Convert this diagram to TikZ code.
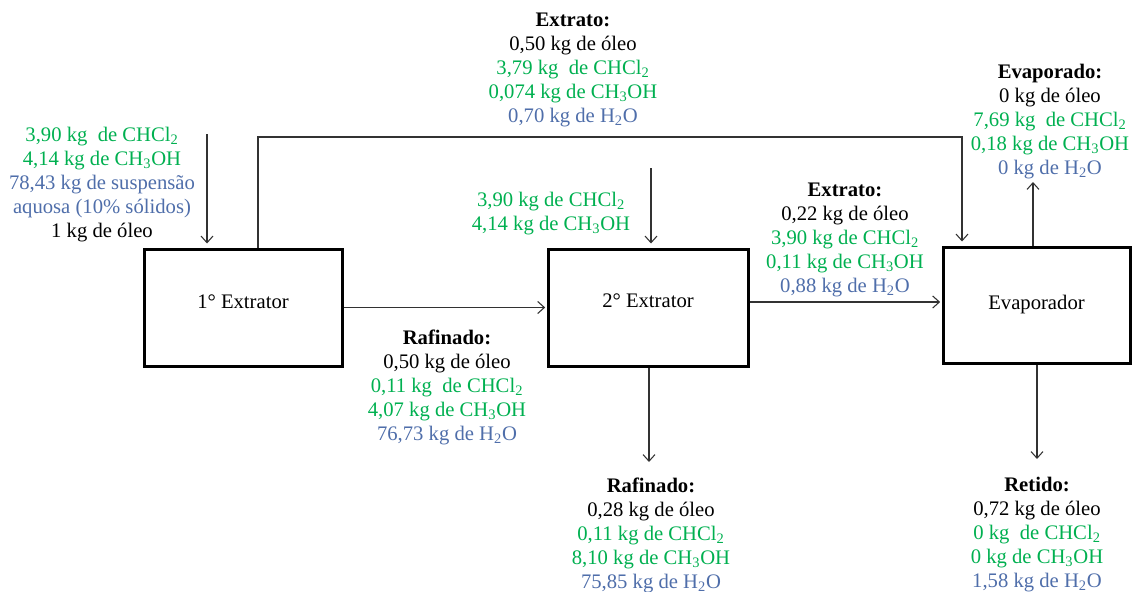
\documentclass[tikz,border=0pt]{standalone}
\usepackage{fontspec}
\setmainfont{Liberation Serif}
\usetikzlibrary{arrows.meta}
\definecolor{cgreen}{RGB}{0,176,80}
\definecolor{cblue}{RGB}{79,110,170}
\definecolor{cline}{RGB}{50,50,50}
\newcommand{\G}[1]{\textcolor{cgreen}{#1}}
\newcommand{\B}[1]{\textcolor{cblue}{#1}}
\newcommand{\sub}[1]{\textsubscript{#1}}
\begin{document}
\begin{tikzpicture}[x=0.75pt,y=-0.75pt,
  every node/.style={font=\fontsize{15.5}{18}\selectfont},
  unit/.style={draw=black,line width=2.25pt,inner sep=0pt},
  lbl/.style={align=center,inner sep=0pt},
  arr/.style={draw=cline,line width=0.8pt,-{Straight Barb[length=5pt,width=9pt]}},
  ln/.style={draw=cline,line width=0.8pt}]
\useasboundingbox (0,0) rectangle (1132,592);
% units
\node[unit,minimum width=148.5pt,minimum height=87.75pt,text height=10.5pt,text depth=9.3pt] (b1) at (243,307.5) {1° Extrator};
\node[unit,minimum width=150pt,minimum height=87.75pt,text height=10.5pt,text depth=10.8pt] (b2) at (648,307.5) {2° Extrator};
\node[unit,minimum width=140.25pt,minimum height=87pt] (b3) at (1036.5,305) {Evaporador};
% coordinates
\coordinate (f1) at (207,134);
\coordinate (r1) at (258,137);
\coordinate (r2) at (962,137);
\coordinate (f2) at (651,168);
\coordinate (y302) at (0,302);
\coordinate (e1) at (1033,182);
\coordinate (d2) at (649,462);
\coordinate (d3) at (1037,459);
% connectors
\draw[arr,shorten >=3pt] (f1) -- (f1 |- b1.north);
\draw[arr,shorten >=3pt] (b1.north -| r1) |- (r2) -- (r2 |- b3.north);
\draw[arr,shorten >=1pt] (b1.east) -- (b2.west);
\draw[arr,shorten >=3pt] (f2) -- (f2 |- b2.north);
\draw[arr,shorten >=1pt] (b2.east |- y302) -- (b3.west |- y302);
\draw[arr] (b3.north -| e1) -- (e1);
\draw[arr] (b2.south -| d2) -- (d2);
\draw[arr] (b3.south -| d3) -- (d3);
% labels
\node[lbl] (t1) at (102,185) {\G{3,90 kg\ \ de CHCl\sub{2}}\\ \G{4,14 kg de CH\sub{3}OH}\\ \B{78,43 kg de suspensão}\\ \B{aquosa (10\% sólidos)}\\ 1 kg de óleo};
\node[lbl] (t2) at (573,70) {\textbf{Extrato:}\\ 0,50 kg de óleo\\ \G{3,79 kg\ \ de CHCl\sub{2}}\\ \G{0,074 kg de CH\sub{3}OH}\\ \B{0,70 kg de H\sub{2}O}};
\node[lbl] (t3) at (1050,122) {\textbf{Evaporado:}\\ 0 kg de óleo\\ \G{7,69 kg\ \ de CHCl\sub{2}}\\ \G{0,18 kg de CH\sub{3}OH}\\ \B{0 kg de H\sub{2}O}};
\node[lbl] (t4) at (551,214) {\G{3,90 kg de CHCl\sub{2}}\\ \G{4,14 kg de CH\sub{3}OH}};
\node[lbl] (t5) at (845,240) {\textbf{Extrato:}\\ 0,22 kg de óleo\\ \G{3,90 kg de CHCl\sub{2}}\\ \G{0,11 kg de CH\sub{3}OH}\\ \B{0,88 kg de H\sub{2}O}};
\node[lbl] (t6) at (447,387) {\textbf{Rafinado:}\\ 0,50 kg de óleo\\ \G{0,11 kg\ \ de CHCl\sub{2}}\\ \G{4,07 kg de CH\sub{3}OH}\\ \B{76,73 kg de H\sub{2}O}};
\node[lbl] (t7) at (651,535) {\textbf{Rafinado:}\\ 0,28 kg de óleo\\ \G{0,11 kg de CHCl\sub{2}}\\ \G{8,10 kg de CH\sub{3}OH}\\ \B{75,85 kg de H\sub{2}O}};
\node[lbl] (t8) at (1037,535) {\textbf{Retido:}\\ 0,72 kg de óleo\\ \G{0 kg\ \ de CHCl\sub{2}}\\ \G{0 kg de CH\sub{3}OH}\\ \B{1,58 kg de H\sub{2}O}};
\end{tikzpicture}
\end{document}
